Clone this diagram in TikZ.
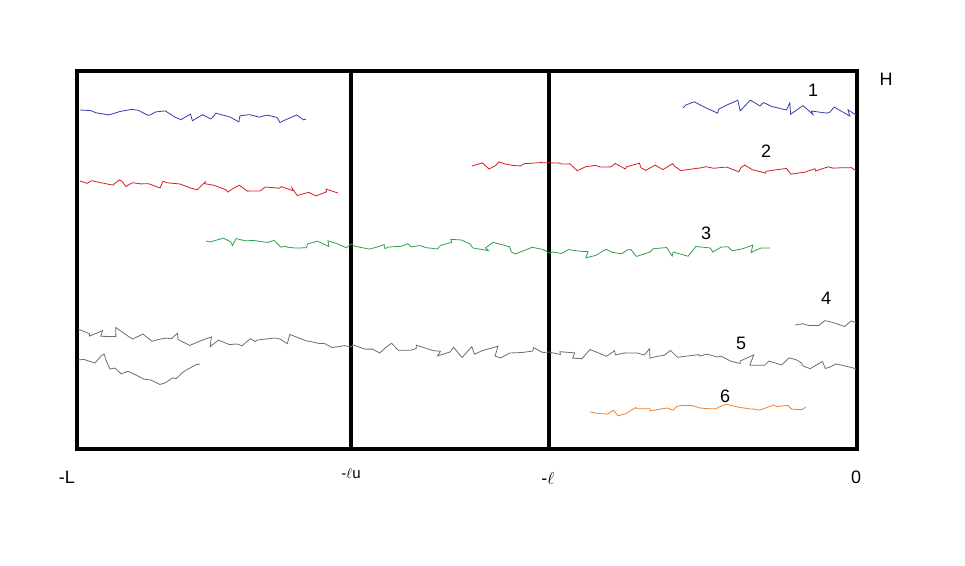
\documentclass[tikz,border=0pt]{standalone}
\usepackage{fontspec}
\setmainfont{Liberation Sans}
\usetikzlibrary{decorations.pathmorphing}
\definecolor{cblue}{RGB}{52,62,170}
\definecolor{cred}{RGB}{210,30,40}
\definecolor{cgreen}{RGB}{50,160,80}
\definecolor{cgray}{RGB}{110,110,110}
\definecolor{corange}{RGB}{240,130,50}
\tikzset{
  frame/.style={line width=4.5pt},
  wig/.style={line width=0.8pt, decorate, decoration={random steps, segment length=7pt, amplitude=#1}},
  wig/.default=5pt,
  lbl/.style={font=\fontsize{18}{20}\selectfont, inner sep=0pt},
}
\begin{document}
\begin{tikzpicture}[x=1pt,y=-1pt]
\useasboundingbox (0,0) rectangle (965,565);
\fill[white] (0,0) rectangle (965,565);
% frame
\draw[frame] (77,71) rectangle (857,449);
\draw[frame] (351,71) -- (351,449);
\draw[frame] (549,71) -- (549,449);
% curves
\pgfmathsetseed{11}
\draw[cblue, wig=5.5pt] (80,110) -- (150,115) -- (230,117) -- (306,119);
\pgfmathsetseed{12}
\draw[cblue, wig=6.5pt] (683,108) -- (760,106) -- (830,112) -- (856,115);
\pgfmathsetseed{13}
\draw[cred, wig=5pt] (80,181) -- (180,184) -- (260,191) -- (338,193);
\pgfmathsetseed{14}
\draw[cred, wig=4.5pt] (472,166) -- (600,167) -- (700,168) -- (856,171);
\pgfmathsetseed{15}
\draw[cgreen, wig=5.5pt] (206,241) -- (351,244) -- (470,244) -- (549,253) -- (650,252) -- (770,248);
\pgfmathsetseed{16}
\draw[cgray, wig=4pt] (795,325) -- (856,323);
\pgfmathsetseed{17}
\draw[cgray, wig=6pt] (78,329) -- (200,341) -- (280,339) -- (351,347) -- (450,352) -- (549,352) -- (700,356) -- (856,369);
\pgfmathsetseed{18}
\draw[cgray, wig=3pt] (78,360) -- (95,363) -- (104,354) -- (110,369) -- (140,377) -- (165,383) -- (182,373) -- (200,364);
\pgfmathsetseed{19}
\draw[corange, wig=4.5pt] (590,412) -- (650,411) -- (700,408) -- (806,407);
% labels
\node[lbl] (nL) at (67,477) {-L};
\node[inner sep=0pt, font=\fontsize{15}{16}\selectfont] (nlu) at (351,474) {-$\ell$u};
\node[inner sep=0pt, font=\fontsize{18}{18}\selectfont] (nl) at (548,478) {-$\ell$};
\node[lbl] (n0) at (856,477) {0};
\node[lbl] (nH) at (886,79) {H};
\node[lbl] (n1) at (813,90) {1};
\node[lbl] (n2) at (766,151) {2};
\node[lbl] (n3) at (706,233) {3};
\node[lbl] (n4) at (826,298) {4};
\node[lbl] (n5) at (741,343) {5};
\node[lbl] (n6) at (725,396) {6};
\end{tikzpicture}
\end{document}
